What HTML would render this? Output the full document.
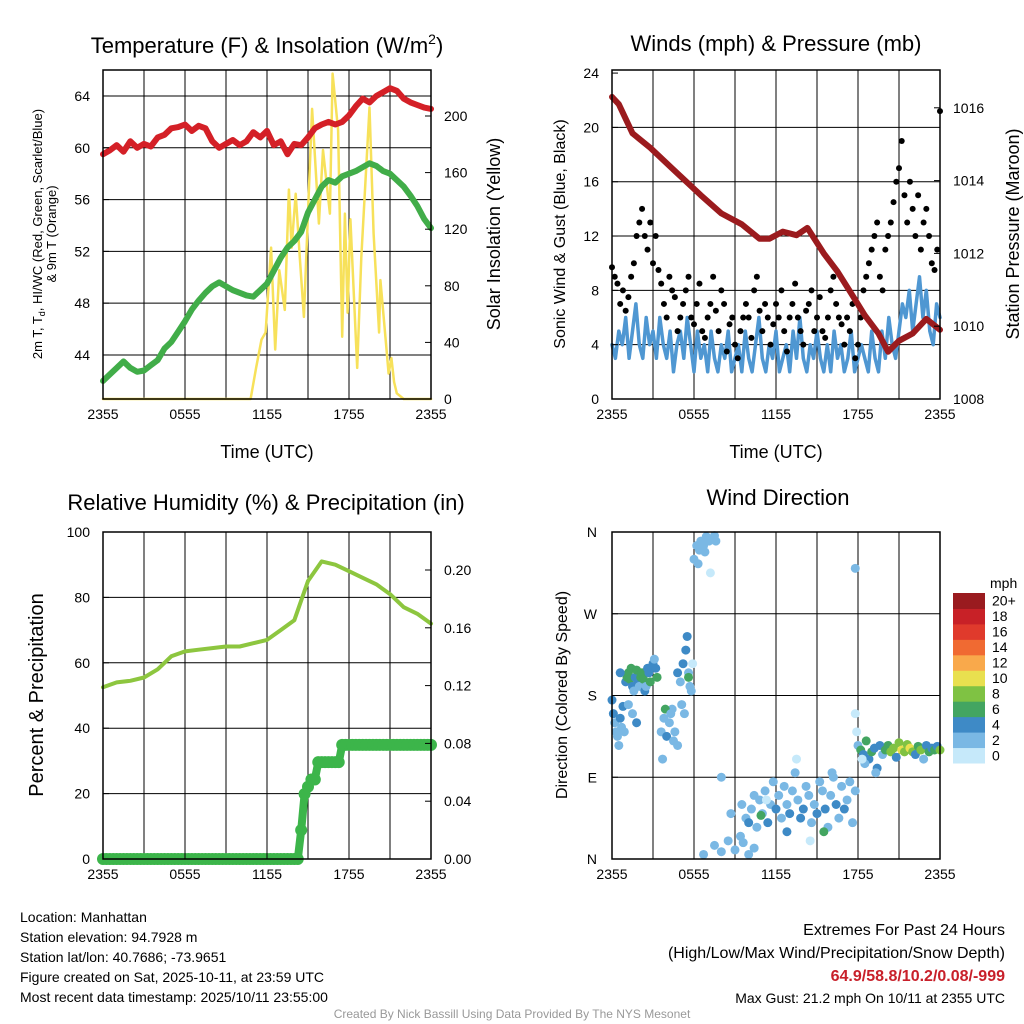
<!DOCTYPE html>
<html><head><meta charset="utf-8"><style>
html,body{margin:0;padding:0;background:#fff;}
svg{display:block;font-family:"Liberation Sans",sans-serif;}
</style></head><body>
<svg id="s" width="1024" height="1024" viewBox="0 0 1024 1024"></svg>
<script>
// ---------- DATA ----------
const timeLabels = ["2355","0555","1155","1755","2355"];
const tempTicks = [44,48,52,56,60,64];
const insolTicks = [0,40,80,120,160,200];
const windTicks = [0,4,8,12,16,20,24];
const presTicks = [1008,1010,1012,1014,1016];
const rhTicks = [0,20,40,60,80,100];
const precipTicks = [0,0.04,0.08,0.12,0.16,0.20];
const dirTicks = ["N","E","S","W","N"];
const dirTickVals = [0,90,180,270,360];
const speedBins = ["0","2","4","6","8","10","12","14","16","18","20+"];
const speedColors = ["#c6e9fa","#7ab8e4","#3e8ac6","#43a561","#7fc243","#e9e04f","#f9a94b","#f06a32","#e03a2c","#c82127","#9a1b1f"];
const redTemp = [59.5,59.8,60.2,59.7,60.5,60.0,60.3,60.1,60.8,61.0,61.5,61.6,61.8,61.3,61.7,61.5,60.5,60.0,60.3,60.6,60.2,60.5,61.2,60.8,61.3,60.2,60.5,59.5,60.3,60.2,60.8,61.5,61.8,62.0,61.8,62.0,62.5,63.2,63.8,63.5,64.0,64.3,64.6,64.4,63.8,63.5,63.3,63.1,63.0];
const greenTemp = [42.0,42.5,43.0,43.5,43.0,42.7,42.8,43.2,43.6,44.5,45.0,45.8,46.6,47.5,48.2,48.8,49.3,49.6,49.3,49.0,48.8,48.6,48.5,49.0,49.5,50.5,51.5,52.3,52.8,53.5,55.0,56.0,57.0,57.5,57.3,57.8,58.0,58.2,58.5,58.8,58.6,58.2,58.0,57.5,57.0,56.3,55.5,54.5,53.8];
const insolHours = [0,10.8,11.2,11.6,11.9,12.3,12.6,12.9,13.3,13.6,13.8,14.1,14.4,14.7,15.3,15.8,16.1,16.6,16.8,17.2,17.5,17.7,17.9,18.1,18.6,18.9,19.5,19.8,20.2,20.3,20.7,20.9,21.1,21.3,21.5,22.0,22.4,24];
const insolVals = [0,0,22,42,47,107,35,91,63,148,107,145,100,58,205,124,176,131,230,190,44,131,61,127,22,100,206,117,47,84,40,18,29,12,4,0,0,0];
const windSus = [4,3,5,4,6,3,5,7,4,3,6,4,5,3,6,4,3,5,2,4,5,3,6,4,2,5,3,4,2,5,3,2,4,3,5,2,3,4,2,5,3,2,4,6,3,2,4,3,5,2,3,4,2,5,3,6,3,2,4,3,5,3,2,4,2,5,3,4,2,3,5,2,3,4,3,2,5,3,2,5,3,6,4,3,5,7,6,8,5,7,9,6,8,5,4,7,6];
const windGust = [9.7,9,8.5,7,8,6.5,7.5,9,10,12,13,14,12,11,13,10,12,9.5,8.5,7,6,9,8,7.5,5,6,7,8,9,6,5.5,7,8.5,5,4.5,6,7,9,6.5,5,8,7,3.5,5.5,6,4,3,5,6,7,6,4.5,8,9,6.5,5,7,6,4,5.5,7,6,8,5,3.5,6,7,8.5,6,5,4,6.5,7,8,5,6,7.5,5,4.5,6,8,9,7,6,5.5,4,6,5,7,3,4,6,8,9,10,11,12,13,9,8,11,12,13,14.5,16,17,19,15,13,16,14,12,15,11,13,14,12,10,9.5,11,21.2];
const presHours = [0,0.5,1.5,2.8,4.5,6.5,8.0,9.5,10.8,11.5,12.5,13.5,14.3,15.5,16.5,17.5,18.5,19.5,20.2,21.0,22.0,23.0,24];
const presVals = [1016.3,1016.1,1015.3,1014.9,1014.3,1013.6,1013.1,1012.8,1012.4,1012.4,1012.6,1012.5,1012.7,1012.0,1011.5,1010.9,1010.3,1009.8,1009.3,1009.6,1009.8,1010.2,1009.9];
const rhHourly = [52.5,54,54.5,55.5,58,62,63.5,64,64.5,65,65,66,67,70,73,85,91,90,88,86,84,81,77,75,72];
const precip = [0,0,0,0,0,0,0,0,0,0,0,0,0,0,0,0,0,0,0,0,0,0,0,0,0,0,0,0,0,0,0,0,0,0,0,0,0,0,0,0,0,0,0,0,0,0,0,0,0,0,0,0,0,0,0,0,0,0,0.02,0.045,0.05,0.055,0.055,0.067,0.067,0.067,0.067,0.067,0.067,0.067,0.079,0.079,0.079,0.079,0.079,0.079,0.079,0.079,0.079,0.079,0.079,0.079,0.079,0.079,0.079,0.079,0.079,0.079,0.079,0.079,0.079,0.079,0.079,0.079,0.079,0.079,0.079];
const dirHours = [
0.0,0.1,0.2,0.3,0.4,0.5,0.6,0.7,0.8,0.9,
1.0,1.1,1.2,1.3,1.4,1.5,1.6,1.7,1.8,1.9,
2.0,2.1,2.2,2.3,2.4,2.5,2.6,2.7,2.8,3.0,
3.1,3.2,3.3,1.2,1.5,1.8,0.6,
3.6,3.8,4.0,4.2,4.4,4.6,4.8,3.9,4.3,4.5,3.7,
5.0,5.2,5.4,5.5,5.6,5.7,5.8,5.6,4.8,5.1,5.3,5.9,
6.0,6.2,6.4,6.5,6.7,6.9,7.1,7.3,7.5,7.6,6.3,6.8,7.2,
6.7,7.5,8.0,8.5,9.0,9.4,9.6,10.0,10.4,8.7,
9.5,9.8,10.0,10.2,10.4,10.6,10.8,11.0,11.2,11.4,
11.6,11.8,12.0,12.2,12.4,12.6,12.8,13.0,13.2,13.4,
13.6,13.8,14.0,14.2,14.4,14.6,14.8,15.0,15.2,15.4,
15.6,15.8,16.0,16.2,16.4,16.6,16.8,17.0,17.2,17.4,
17.6,17.8,10.9,15.5,12.8,14.5,11.3,16.1,13.5,8.0,
17.9,18.0,18.2,18.4,18.6,18.8,19.0,19.2,19.4,19.6,
19.8,20.0,20.2,20.4,20.6,20.8,21.0,21.2,21.4,21.6,
21.8,22.0,22.2,22.4,22.6,22.8,23.0,23.2,23.4,23.6,23.8,24.0,
18.5,19.3,17.8,17.8,18.3];
const dirVals = [
175,160,150,140,135,125,155,145,168,140,
195,200,205,198,210,190,185,200,208,195,
190,200,205,198,185,190,210,205,195,215,
220,210,200,170,160,150,205,
140,155,135,150,165,140,125,165,160,130,110,
195,215,230,245,205,190,185,200,205,170,160,215,
330,345,340,350,345,355,350,352,356,350,325,338,315,
5,15,8,20,10,25,18,5,12,50,
60,45,40,55,70,35,65,50,75,40,
60,85,55,70,45,80,60,50,75,95,
65,45,55,80,70,40,60,50,85,75,
55,35,70,90,60,45,80,55,65,85,
40,75,48,30,30,20,65,95,110,90,
140,125,120,115,130,110,118,122,100,125,
115,120,125,118,122,112,128,120,118,126,
122,118,115,124,120,110,125,118,122,120,124,120,
105,95,160,320,110];
const dirSpeeds = [
5,4,3,3,2,3,4,3,4,2,
4,6,6,7,6,4,3,5,6,4,
3,7,6,6,4,3,5,4,6,4,
3,4,7,3,2,4,4,
2,3,4,3,2,3,2,6,3,2,2,
3,4,4,4,3,2,3,6,4,3,3,1,
2,2,2,3,2,2,2,2,3,3,2,2,1,
2,2,2,2,2,3,2,2,2,2,
2,3,4,2,2,3,2,3,2,4,
3,2,4,3,2,2,3,4,2,2,
2,4,4,2,3,2,3,4,2,2,
4,3,2,2,4,2,3,4,2,3,
2,2,6,6,4,1,1,2,1,2,
1,2,6,4,6,4,6,5,4,4,
3,6,7,8,9,4,8,10,8,9,
10,8,4,7,8,3,4,6,5,7,5,8,
2,3,1,2,1];
const bottomLeft = ["Location: Manhattan","Station elevation: 94.7928 m","Station lat/lon: 40.7686; -73.9651","Figure created on Sat, 2025-10-11, at 23:59 UTC","Most recent data timestamp: 2025/10/11 23:55:00"];

// ---------- DRAW ----------
const NS="http://www.w3.org/2000/svg";
const svg=document.getElementById('s');
function mk(tag,attrs,parent){const e=document.createElementNS(NS,tag);for(const k in attrs)e.setAttribute(k,attrs[k]);(parent||svg).appendChild(e);return e;}
function txt(str,x,y,size,anchor,parent,extra){const e=mk('text',Object.assign({x:x,y:y,'font-size':size,'text-anchor':anchor||'middle',fill:'#000'},extra||{}),parent);e.textContent=str;return e;}

const P1={x0:103,x1:431,y0:70,y1:399}, P2={x0:612,x1:940,y0:70,y1:399}, P3={x0:103,x1:431,y0:532,y1:859}, P4={x0:612,x1:940,y0:532,y1:859};
const xs=(P,h)=>P.x0+h/24*(P.x1-P.x0);
const yTemp=v=>399-(v-40.6)*12.95, yIns=v=>399-v*283/200;
const yWind=v=>399-v*13.58, yPres=v=>399-(v-1008)*36.4;
const yRH=v=>859-v*3.27, yPrecip=v=>859-v*1445;
const yDir=v=>859-v/360*327;

function grid(P,hy,name){
  const g=mk('g',{});
  
  
  for(let h=3;h<24;h+=3){mk('line',{x1:xs(P,h),x2:xs(P,h),y1:P.y0,y2:P.y1,stroke:'#000','stroke-width':1},g);}
  hy.forEach(y=>mk('line',{x1:P.x0,x2:P.x1,y1:y,y2:y,stroke:'#000','stroke-width':1},g));
}
function frame(P,name){
  const r=mk('rect',{x:P.x0,y:P.y0,width:P.x1-P.x0,height:P.y1-P.y0,fill:'none',stroke:'#000','stroke-width':1.5});
  
  
}
function xaxis(P,name){
  const g=mk('g',{});
  
  
  timeLabels.forEach((l,i)=>{const x=xs(P,i*6);mk('line',{x1:x,x2:x,y1:P.y1,y2:P.y1-6,stroke:'#000'},g);txt(l,x,P.y1+20,14,'middle',g);});
}
function poly(pts,attrs,name){
  const e=mk('polyline',Object.assign({points:pts.map(p=>p[0].toFixed(1)+','+p[1].toFixed(1)).join(' '),fill:'none','stroke-linejoin':'round','stroke-linecap':'round'},attrs));
  
  
  return e;
}
function leftTicks(P,vals,yf,fmt,name){
  const g=mk('g',{});
  
  
  vals.forEach(v=>{const y=yf(v);mk('line',{x1:P.x0,x2:P.x0+6,y1:y,y2:y,stroke:'#000'},g);txt(fmt(v),P.x0-13,y+5,14,'end',g);});
}
function rightTicks(P,vals,yf,fmt,name){
  const g=mk('g',{});
  
  
  vals.forEach(v=>{const y=yf(v);mk('line',{x1:P.x1,x2:P.x1-6,y1:y,y2:y,stroke:'#000'},g);txt(fmt(v),P.x1+13,y+5,14,'start',g);});
}

// Panel 1
grid(P1,tempTicks.map(yTemp),'temp');
poly(insolVals.map((v,i)=>[xs(P1,insolHours[i]),yIns(v)]),{stroke:'#f7e15a','stroke-width':2.5},'insolation-line');
poly(greenTemp.map((v,i)=>[xs(P1,i/2),yTemp(v)]),{stroke:'#41ad49','stroke-width':6},'green-temp-line');
poly(redTemp.map((v,i)=>[xs(P1,i/2),yTemp(v)]),{stroke:'#d42027','stroke-width':6},'red-temp-line');
frame(P1,'temp');xaxis(P1,'temp');
leftTicks(P1,tempTicks,yTemp,v=>String(v),'temp-y-axis');
rightTicks(P1,insolTicks,yIns,v=>String(v),'insolation-y-axis');
let t=txt('',267,53,22,'middle');
t.innerHTML='Temperature (F) &amp; Insolation (W/m<tspan dy="-9" font-size="14">2</tspan><tspan dy="9">)</tspan>';
t=txt('Time (UTC)',267,458,18);
t=mk('text',{transform:'translate(42,234) rotate(-90)','font-size':13,'text-anchor':'middle'});
t.innerHTML='<tspan x="0" y="0">2m T, T<tspan font-size="9" dy="3">d</tspan><tspan dy="-3">, HI/WC (Red, Green, Scarlet/Blue)</tspan></tspan><tspan x="0" y="14">&amp; 9m T (Orange)</tspan>';
t=txt('Solar Insolation (Yellow)',0,0,18,'middle',null,{transform:'translate(500,234) rotate(-90)'});

// Panel 2
grid(P2,[4,8,12,16,20].map(yWind),'wind');
poly(windSus.map((v,i)=>[xs(P2,i*24/(windSus.length-1)),yWind(v)]),{stroke:'#4f97d2','stroke-width':3.5},'sustained-wind-line');
windGust.forEach((v,i)=>{const c=mk('circle',{cx:xs(P2,i*24/(windGust.length-1)),cy:yWind(v),r:3,fill:'#000'});

});
poly(presVals.map((v,i)=>[xs(P2,presHours[i]),yPres(v)]),{stroke:'#9b1b1e','stroke-width':6},'pressure-line');
frame(P2,'wind');xaxis(P2,'wind');
leftTicks(P2,windTicks,yWind,v=>String(v),'wind-y-axis');
rightTicks(P2,presTicks,yPres,v=>String(v),'pressure-y-axis');
t=txt('Winds (mph) & Pressure (mb)',776,51,22);
t=txt('Time (UTC)',776,458,18);
t=txt('Sonic Wind & Gust (Blue, Black)',0,0,16,'middle',null,{transform:'translate(565,234) rotate(-90)'});
t=txt('Station Pressure (Maroon)',0,0,18,'middle',null,{transform:'translate(1019,234) rotate(-90)'});

// Panel 3
grid(P3,[20,40,60,80].map(yRH),'rh');
poly(rhHourly.map((v,i)=>[xs(P3,i),yRH(v)]),{stroke:'#8dc63f','stroke-width':4},'rh-line');
poly(precip.map((v,i)=>[xs(P3,i/4),yPrecip(v)]),{stroke:'#3cb54a','stroke-width':8},'precip-line');
precip.forEach((v,i)=>{const c=mk('circle',{cx:xs(P3,i/4),cy:yPrecip(v),r:6,fill:'#3cb54a'});

});
frame(P3,'rh');xaxis(P3,'rh');
leftTicks(P3,rhTicks,yRH,v=>String(v),'rh-y-axis');
rightTicks(P3,precipTicks,yPrecip,v=>v.toFixed(2),'precip-y-axis');
t=txt('Relative Humidity (%) & Precipitation (in)',266,510,22);
t=txt('Percent & Precipitation',0,0,20,'middle',null,{transform:'translate(43,695) rotate(-90)'});

// Panel 4
grid(P4,[90,180,270].map(yDir),'dir');
const nDir=Math.min(dirHours.length,dirVals.length,dirSpeeds.length);
for(let i=0;i<nDir;i++){const b=Math.min(10,Math.floor(dirSpeeds[i]/2));const c=mk('circle',{cx:xs(P4,dirHours[i]),cy:yDir(dirVals[i]),r:4.5,fill:speedColors[b]});

}
frame(P4,'dir');xaxis(P4,'dir');
(function(){const g=mk('g',{});
dirTicks.forEach((l,i)=>{const y=yDir(dirTickVals[i]);mk('line',{x1:P4.x0,x2:P4.x0+6,y1:y,y2:y,stroke:'#000'},g);txt(l,P4.x0-15,y+5,14,'end',g);});})();
t=txt('Wind Direction',778,505,22);
t=txt('Direction (Colored By Speed)',0,0,16,'middle',null,{transform:'translate(567,695) rotate(-90)'});
// colorbar
(function(){const g=mk('g',{});
const bh=170/11;
speedBins.forEach((l,i)=>{const y=763-(i+1)*bh;mk('rect',{x:953,y:y,width:32,height:bh+0.5,fill:speedColors[i]},g);txt(l,992,y+bh/2+5,14,'start',g);});
txt('mph',990,588,14,'start',g);})();

// Bottom text
bottomLeft.forEach((s,i)=>{const e=txt(s,20,922+i*20,14,'start');});
t=txt('Extremes For Past 24 Hours',1005,935,16,'end');
t=txt('(High/Low/Max Wind/Precipitation/Snow Depth)',1005,958,16,'end');
t=txt('64.9/58.8/10.2/0.08/-999',1005,981,16,'end',null,{fill:'#c8202a','font-weight':'bold'});
t=txt('Max Gust: 21.2 mph On 10/11 at 2355 UTC',1005,1003,14,'end');
t=txt('Created By Nick Bassill Using Data Provided By The NYS Mesonet',512,1018,12,'middle',null,{fill:'#999'});
</script>
</body></html>
